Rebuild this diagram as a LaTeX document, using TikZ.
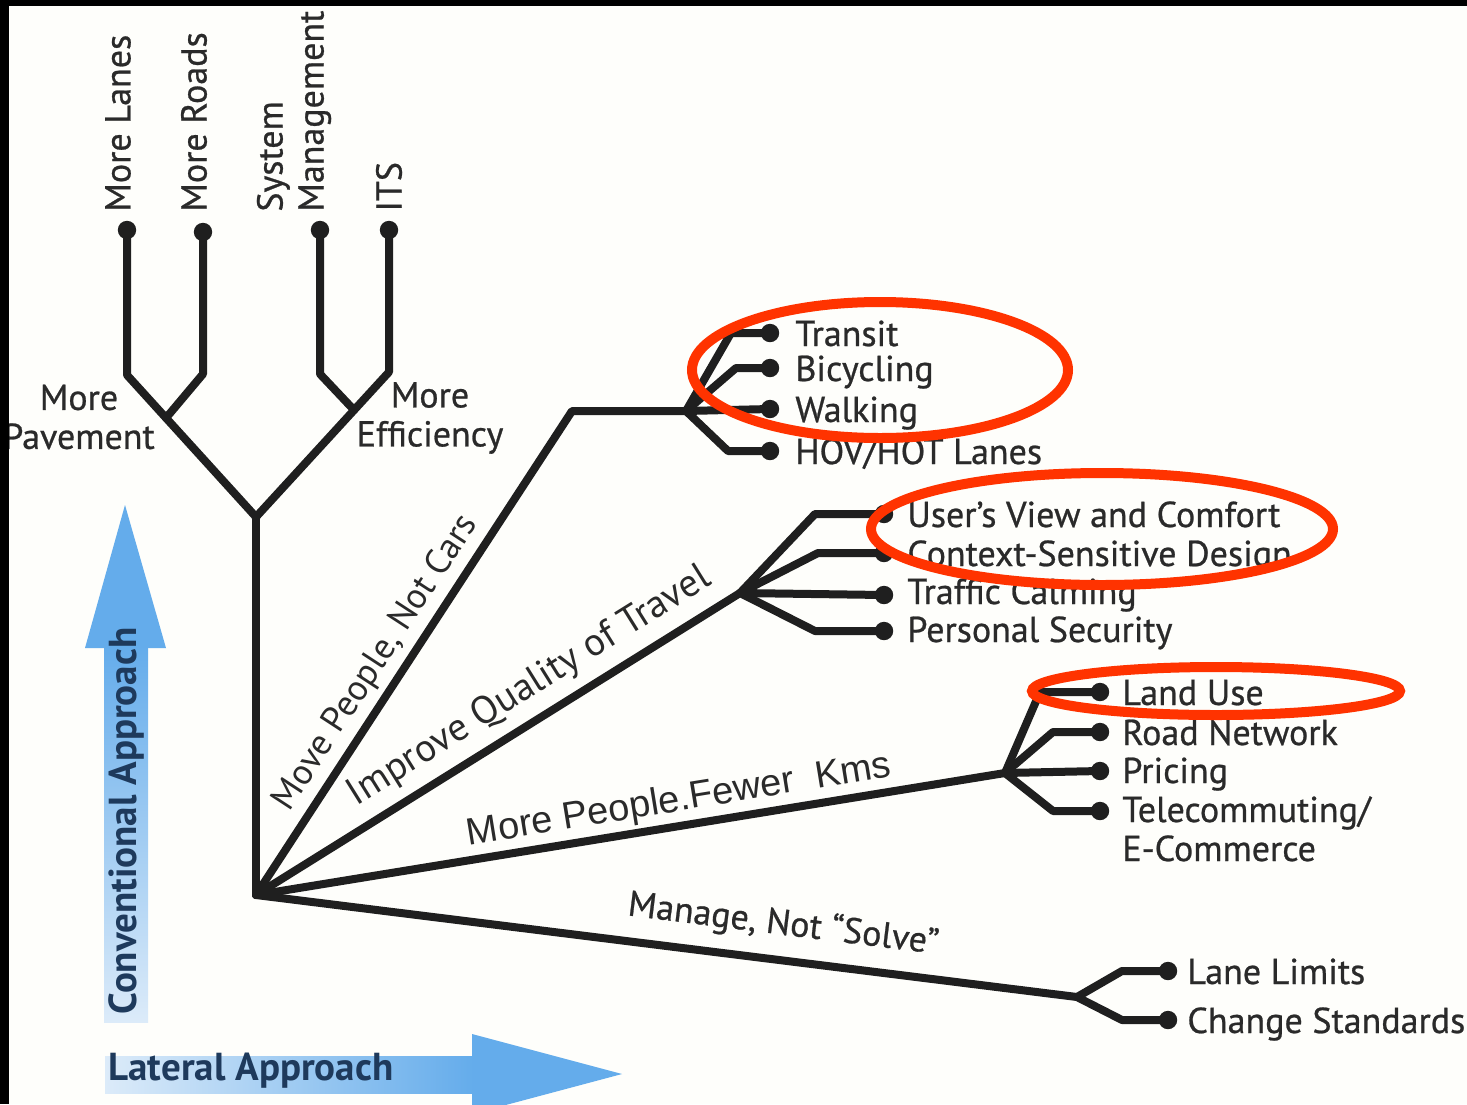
\documentclass[tikz,border=0pt]{standalone}
\usepackage{fontspec}
\setmainfont{PT Sans}
\newfontfamily\darkfont{PT Sans}[FakeBold=0.7]
\newfontfamily\arialfont{Liberation Sans}
\usepackage{tikz}
\usetikzlibrary{backgrounds}
\usepackage{tkz-euclide}
\usepackage{xcolor}
\definecolor{paper}{HTML}{FEFEFB}
\definecolor{twig}{HTML}{1F1F1F}
\definecolor{ink}{HTML}{2A2A2A}
\definecolor{skyarrow}{HTML}{64ACEB}
\definecolor{skypale}{HTML}{DCEBF9}
\definecolor{navy}{HTML}{1E3A5C}
\definecolor{circled}{HTML}{FF3300}

\begin{document}
\begin{tikzpicture}[x=0.5pt,y=-0.5pt,background rectangle/.style={fill=paper},show background rectangle,inner frame sep=0pt,
		twigline/.style={line width=4pt,color=twig,line cap=round,line join=round},
		leaflabel/.style={text=ink,anchor=base west,inner sep=0pt,font=\darkfont\fontsize{18}{21}\selectfont},
		toplabel/.style={text=ink,rotate=90,anchor=west,inner sep=0pt,align=left,font=\darkfont\fontsize{18}{20.5}\selectfont},
		fanlabel/.style={text=ink,sloped,inner sep=0pt,font=\fontsize{18}{21}\selectfont},
		ring/.style={draw=circled,line width=5pt}]
		\useasboundingbox (0,0) rectangle (1467,1104);
		%
		% arrows
		\fill[skyarrow] (85,648) -- (125,505) -- (166,648) -- cycle;
		\shade[top color=skyarrow,bottom color=skypale] (104,646) rectangle (148,1022);
		\node[rotate=90,text=navy,font=\bfseries\fontsize{19.5}{22}\selectfont] (conv) at (126,821) {Conventional Approach};
		\shade[left color=skypale,right color=skyarrow] (105,1056) rectangle (474,1093);
		\fill[skyarrow] (472,1034) -- (622,1074) -- (472,1114) -- cycle;
		\node[text=navy,font=\bfseries\fontsize{19.5}{22}\selectfont] (lateral) at (251,1071) {Lateral Approach};
		%
		% conventional tree
		\tkzDefPoint(256,895){H}
		\tkzDefPoint(256,517){V}
		\tkzDefPoint(127,375){PL}
		\tkzDefPoint(166,418){JL}
		\tkzDefPoint(203,374){BR}
		\tkzDefPoint(389,372){PR}
		\tkzDefPoint(354,410){JR}
		\tkzDefPoint(320,374){BS}
		\tkzDefPoint(127,230){Lanes}
		\tkzDefPoint(203,232){Roads}
		\tkzDefPoint(320,230){SysMan}
		\tkzDefPoint(389,230){Its}
		\draw[twigline] (Lanes) -- (PL) -- (V) -- (PR) -- (Its);
		\draw[twigline] (JL) -- (BR) -- (Roads);
		\draw[twigline] (JR) -- (BS) -- (SysMan);
		\draw[twigline] (V) -- (H);
		\node[toplabel] (lanes) at (118,212) {More Lanes};
		\node[toplabel] (roads) at (194,212) {More Roads};
		\node[toplabel] (sysman) at (294,212) {System\\Management};
		\node[toplabel] (its) at (389,212) {ITS};
		\node[text=ink,align=center,font=\darkfont\fontsize{18}{19.5}\selectfont] (pave) at (79,417) {More\\Pavement};
		\node[text=ink,align=center,font=\darkfont\fontsize{18}{19.5}\selectfont] (effic) at (430,418) {More\\Efficiency};
		%
		% move people
		\tkzDefPoint(572,411){A1}
		\tkzDefPoint(686,411){A1h}
		\tkzDefPoint(731,333){b11}
		\tkzDefPoint(736,368){b12}
		\tkzDefPoint(728,451){b14}
		\tkzDefPoint(770,333){d11}
		\tkzDefPoint(770,368){d12}
		\tkzDefPoint(770,409){d13}
		\tkzDefPoint(770,451){d14}
		\draw[twigline] (H) -- node[fanlabel,pos=0.45,above=3pt] (move) {Move People, Not Cars} (A1) -- (A1h);
		\draw[twigline] (A1h) -- (b11) -- (d11);
		\draw[twigline] (A1h) -- (b12) -- (d12);
		\draw[twigline] (A1h) -- (d13);
		\draw[twigline] (A1h) -- (b14) -- (d14);
		\node[leaflabel] (transit) at (795,346) {Transit};
		\node[leaflabel] (bicycle) at (795,381) {Bicycling};
		\node[leaflabel] (walk) at (795,422) {Walking};
		\node[leaflabel] (hov) at (795,464) {HOV/HOT Lanes};
		%
		% quality of travel
		\tkzDefPoint(740,593){A2}
		\tkzDefPoint(815,514){b21}
		\tkzDefPoint(818,553){b22}
		\tkzDefPoint(815,631){b24}
		\tkzDefPoint(884,514){d21}
		\tkzDefPoint(884,553){d22}
		\tkzDefPoint(884,595){d23}
		\tkzDefPoint(884,631){d24}
		\draw[twigline] (H) -- node[fanlabel,pos=0.6,above=5pt,font=\fontsize{19.5}{22}\selectfont] (improve) {Improve Quality of Travel} (A2);
		\draw[twigline] (A2) -- (b21) -- (d21);
		\draw[twigline] (A2) -- (b22) -- (d22);
		\draw[twigline] (A2) -- (d23);
		\draw[twigline] (A2) -- (b24) -- (d24);
		\node[leaflabel] (comfort) at (907,527) {User’s View and Comfort};
		\node[leaflabel] (context) at (907,566) {Context-Sensitive Design};
		\node[leaflabel] (calming) at (907,604) {Traffic Calming};
		\node[leaflabel] (security) at (907,642) {Personal Security};
		%
		% fewer kms
		\tkzDefPoint(1005,773){A3}
		\tkzDefPoint(1040,692){b31}
		\tkzDefPoint(1053,732){b32}
		\tkzDefPoint(1053,811){b34}
		\tkzDefPoint(1100,692){d31}
		\tkzDefPoint(1100,732){d32}
		\tkzDefPoint(1100,771){d33}
		\tkzDefPoint(1100,811){d34}
		\draw[twigline] (H) -- node[fanlabel,pos=0.57,above=1.5pt,font=\arialfont\fontsize{19}{22}\selectfont] (fewer) {More People.Fewer\ \ Kms} (A3);
		\draw[twigline] (A3) -- (b31) -- (d31);
		\draw[twigline] (A3) -- (b32) -- (d32);
		\draw[twigline] (A3) -- (d33);
		\draw[twigline] (A3) -- (b34) -- (d34);
		\node[leaflabel] (landuse) at (1122,705) {Land Use};
		\node[leaflabel] (roadnet) at (1122,745) {Road Network};
		\node[leaflabel] (pricing) at (1122,783) {Pricing};
		\node[leaflabel] (telecom) at (1122,822) {Telecommuting/};
		\node[leaflabel] (ecommerce) at (1122,861) {E-Commerce};
		%
		% manage
		\tkzDefPoint(1077,997){A4}
		\tkzDefPoint(1122,971){b41}
		\tkzDefPoint(1122,1020){b42}
		\tkzDefPoint(1168,971){d41}
		\tkzDefPoint(1168,1020){d42}
		\draw[twigline] (H) -- node[fanlabel,pos=0.637,above=7pt,font=\darkfont\fontsize{18}{21}\selectfont] (manage) {Manage, Not “Solve”} (A4);
		\draw[twigline] (A4) -- (b41) -- (d41);
		\draw[twigline] (A4) -- (b42) -- (d42);
		\node[leaflabel] (limits) at (1187,984) {Lane Limits};
		\node[leaflabel] (standards) at (1187,1033) {Change Standards};
		%
		% dots
		\foreach \p in {Lanes,Roads,SysMan,Its,d11,d12,d13,d14,d21,d22,d23,d24,d31,d32,d33,d34,d41,d42}
			\fill[twig] (\p) circle (4.6pt);
		%
		% red rings
		\draw[ring] (880,370) ellipse [x radius=94pt,y radius=34pt];
		\draw[ring] (1102,529) ellipse [x radius=115.5pt,y radius=28pt];
		\draw[ring] (1216,691) ellipse [x radius=92pt,y radius=12pt];
		%
		% scan edges
		\fill[black] (0,0) rectangle (1467,6);
		\fill[black] (0,0) rectangle (9,1104);
	\end{tikzpicture}
\end{document}
